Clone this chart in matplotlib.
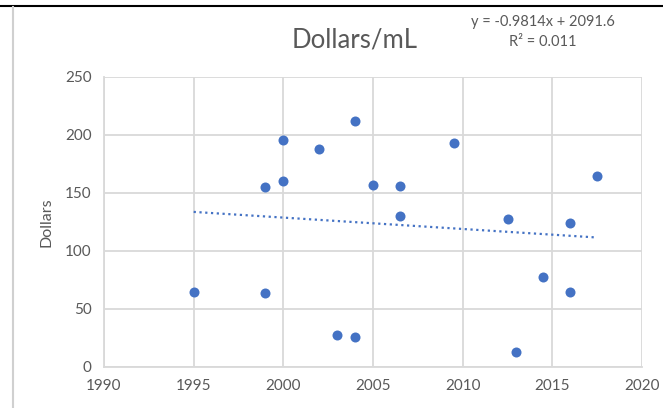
import matplotlib.pyplot as plt
from matplotlib.lines import Line2D

# data
years = [1995, 1999, 1999, 2000, 2000, 2002, 2003, 2004, 2004, 2005,
         2006.5, 2006.5, 2009.5, 2012.5, 2013, 2014.5, 2016, 2016, 2017.5]
dollars = [65, 155, 64, 196, 160, 188, 28, 212, 26, 157,
           156, 130, 193, 128, 13, 78, 124, 65, 165]
slope, intercept = -0.9814, 2091.6
xticks = [1990, 1995, 2000, 2005, 2010, 2015, 2020]
yticks = [0, 50, 100, 150, 200, 250]

plt.rcParams['font.family'] = ['Lato', 'DejaVu Sans']
txt = '#595959'
blue = '#4472C4'
grid = '#d9d9d9'

fig = plt.figure(figsize=(6.63, 4.08), dpi=100)
ax = fig.add_axes([104/663, 41/408, (642-104)/663, (367-77)/408])

ax.scatter(years, dollars, s=52, color=blue, zorder=3, linewidths=0)

# linear trendline
tx = [min(years), max(years)]
ty = [slope*x + intercept for x in tx]
ax.plot(tx, ty, color=blue, lw=1.6, linestyle=(0, (1, 1.6)), zorder=2)

ax.set_xlim(1990, 2020)
ax.set_ylim(0, 250)
ax.set_xticks(xticks)
ax.set_yticks(yticks)
ax.grid(True, color=grid, lw=1.3)
ax.set_axisbelow(True)
for s in ['top', 'right']:
    ax.spines[s].set_visible(False)
for s in ['left', 'bottom']:
    ax.spines[s].set_color(grid)
    ax.spines[s].set_linewidth(1.3)
ax.tick_params(length=0, labelsize=11, colors=txt, pad=9)
ax.set_ylabel('Dollars', fontsize=11.5, color=txt, labelpad=8)

fig.text(355/663, 1 - 40/408, 'Dollars/mL', ha='center', va='center',
         fontsize=18.5, color=txt)
fig.text(543/663, 1 - 22/408, 'y = -0.9814x + 2091.6', ha='center', va='center',
         fontsize=10.5, color=txt)
fig.text(543/663, 1 - 42/408, 'R² = 0.011', ha='center', va='center',
         fontsize=10.5, color=txt)

# frame lines from the screenshot
fig.add_artist(Line2D([0, 1], [1 - 5.5/408]*2, color='black', lw=1.5,
                      transform=fig.transFigure))
fig.add_artist(Line2D([12.5/663]*2, [0, 1 - 7/408], color='#d0d0d0', lw=1.5,
                      transform=fig.transFigure))

fig.savefig('out.png', dpi=100)
